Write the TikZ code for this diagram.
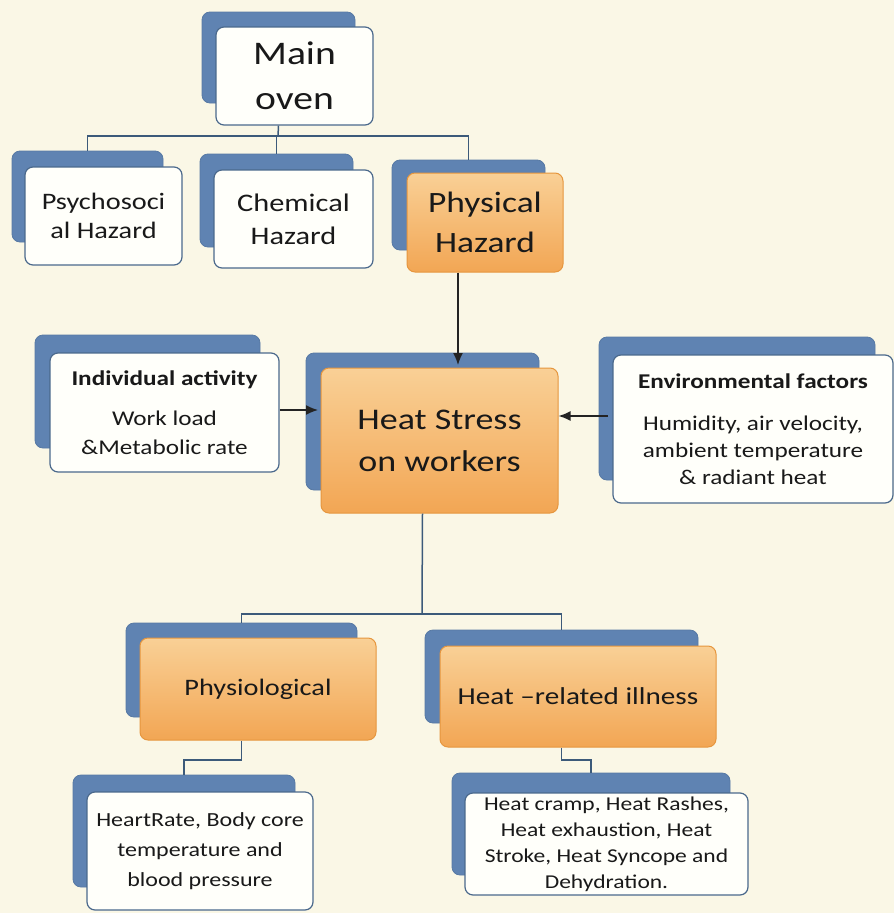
\documentclass[tikz,border=0pt]{standalone}
\usepackage{fontspec}
\setmainfont{Carlito}[FakeStretch=1.2]
\usetikzlibrary{arrows.meta}
\definecolor{bgcream}{RGB}{250,247,230}
\definecolor{shadowblue}{RGB}{95,131,178}
\definecolor{borderblue}{RGB}{75,105,140}
\definecolor{boxwhite}{RGB}{255,255,250}
\definecolor{orangetop}{RGB}{249,208,150}
\definecolor{orangebot}{RGB}{242,166,84}
\definecolor{orangeborder}{RGB}{230,150,62}
\definecolor{treeblue}{RGB}{60,90,122}
\definecolor{arrowgray}{RGB}{35,35,35}
\definecolor{txt}{RGB}{25,25,25}
\tikzset{
 shadowbox/.style={draw=shadowblue!92!black, fill=shadowblue, rounded corners=8pt, line width=0.8pt, inner sep=0pt},
 whitebox/.style={draw=borderblue, fill=boxwhite, rounded corners=8pt, line width=1.2pt, align=center, inner sep=0pt, text=txt},
 orangebox/.style={draw=orangeborder, top color=orangetop, bottom color=orangebot, rounded corners=8pt, line width=1pt, align=center, inner sep=0pt, text=txt},
 tree/.style={draw=treeblue, line width=1.5pt},
 arr/.style={draw=arrowgray, line width=1.5pt, -{Latex[length=12pt,width=10pt]}},
}
\begin{document}
\begin{tikzpicture}[x=1pt,y=-1pt]
\fill[bgcream] (0,0) rectangle (894,913);
\useasboundingbox (0,0) rectangle (894,913);

% Main oven
\node[shadowbox, minimum width=153pt, minimum height=91pt] (main-s) at (278.5,57.5) {};
\node[whitebox, minimum width=157pt, minimum height=98pt, font={\fontsize{33}{45}\selectfont}] (main) at (294.5,76) {Main\\oven};

% Level 1
\node[shadowbox, minimum width=151pt, minimum height=91pt] (psy-s) at (87.5,196.5) {};
\node[whitebox, minimum width=157pt, minimum height=98pt, font={\fontsize{23.6}{29}\selectfont}] (psy) at (103.5,216) {Psychosoci\\al Hazard};

\node[shadowbox, minimum width=153pt, minimum height=93pt] (chem-s) at (276.5,200.5) {};
\node[whitebox, minimum width=159pt, minimum height=98pt, font={\fontsize{25.3}{33}\selectfont}] (chem) at (293.5,219) {Chemical\\Hazard};

\node[shadowbox, minimum width=153pt, minimum height=90pt] (phys-s) at (468.5,205) {};
\node[orangebox, minimum width=156pt, minimum height=99pt, font={\fontsize{29.5}{40}\selectfont}] (phys) at (485,222.5) {Physical\\Hazard};

% Middle row
\node[shadowbox, minimum width=225pt, minimum height=113pt] (ind-s) at (147.5,391.5) {};
\node[whitebox, minimum width=229pt, minimum height=119pt, font={\fontsize{21}{29}\selectfont}] (ind) at (164.5,412.5) {\textbf{Individual activity}\\[11pt]Work load\\\&Metabolic rate};

\node[shadowbox, minimum width=233pt, minimum height=137pt] (hs-s) at (422.5,421.5) {};
\node[orangebox, minimum width=237pt, minimum height=145pt, font={\fontsize{30}{42}\selectfont}] (hs) at (439.5,440.5) {Heat Stress\\on workers};

\node[shadowbox, minimum width=276pt, minimum height=143pt] (env-s) at (737,408.5) {};
\node[whitebox, minimum width=280pt, minimum height=148pt, font={\fontsize{21}{27}\selectfont}] (env) at (753,429) {\textbf{Environmental factors}\\[15pt]Humidity, air velocity,\\ambient temperature\\\& radiant heat};

% Level 3
\node[shadowbox, minimum width=231pt, minimum height=94pt] (phy-s) at (241.5,670) {};
\node[orangebox, minimum width=236pt, minimum height=102pt, font={\fontsize{23.6}{29}\selectfont}] (phy) at (258,689) {Physiological};

\node[shadowbox, minimum width=273pt, minimum height=93pt] (hri-s) at (561.5,676.5) {};
\node[orangebox, minimum width=276pt, minimum height=101pt, font={\fontsize{24.3}{29}\selectfont}] (hri) at (578,696.5) {Heat \textendash related illness};

% Level 4
\node[shadowbox, minimum width=222pt, minimum height=112pt] (hr-s) at (184,831) {};
\node[whitebox, minimum width=226pt, minimum height=118pt, font={\fontsize{20}{30}\selectfont}] (hr) at (200,851) {HeartRate, Body core\\temperature and\\blood pressure};

\node[shadowbox, minimum width=278pt, minimum height=102pt] (ill-s) at (591,824) {};
\node[whitebox, minimum width=283pt, minimum height=102pt, font={\fontsize{19.6}{26}\selectfont}] (ill) at (606.5,844) {Heat cramp, Heat Rashes,\\Heat exhaustion, Heat\\Stroke, Heat Syncope and\\Dehydration.};

% Tree connectors
\coordinate (bus1) at (278,136);
\draw[tree] (main.south -| main-s) -- (bus1);
\draw[tree] (bus1) -| (psy-s.north);
\draw[tree] (bus1) -| (chem-s.north);
\draw[tree] (bus1) -| (phys-s.north);

\coordinate (bus2) at (422,614);
\draw[tree] (hs.south -| hs-s) -- (bus2);
\draw[tree] (bus2) -| (phy-s.north);
\draw[tree] (bus2) -| (hri-s.north);

\coordinate (bus3) at (241.5,760);
\draw[tree] (phy.south -| phy-s) -- (bus3) -| (hr-s.north);
\coordinate (bus4) at (561.5,760);
\draw[tree] (hri.south -| hri-s) -- (bus4) -| (ill-s.north);

% Arrows
\coordinate (a1) at (458,365);
\draw[arr] (phys.south -| a1) -- (a1);
\coordinate (a2) at (318,410);
\draw[arr] (ind.east |- a2) -- (a2);
\coordinate (a3) at (608,416);
\draw[arr] (a3) -- (hs.east |- a3);
\end{tikzpicture}
\end{document}
